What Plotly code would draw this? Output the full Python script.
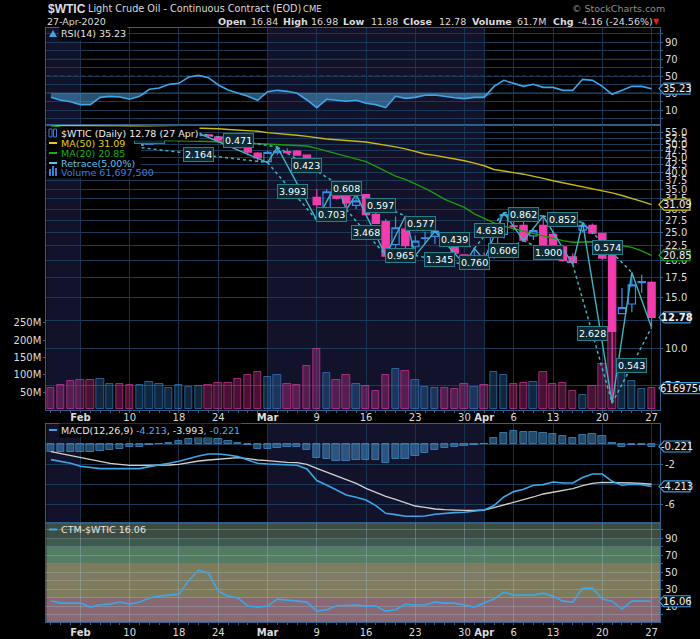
import plotly.graph_objects as go
import numpy as np

# ---------- colours ----------
BLACK = "#000000"
SHADE = "#12122a"
GRID = "#1b3a58"
VGRID = "#17324c"
BORDER = "#2c5f8c"
TXT = "#dcdcdc"
PINK = "#f03cac"
BLUE = "#3a8cf0"
LINEBLUE = "#3ea6e8"
TEAL = "#3cb4c4"
FONT = "DejaVu Sans"

# ---------- data ----------
dates = ["Jan 29", "Jan 30", "Jan 31",
         "Feb 3", "Feb 4", "Feb 5", "Feb 6", "Feb 7", "Feb 10", "Feb 11", "Feb 12", "Feb 13", "Feb 14",
         "Feb 18", "Feb 19", "Feb 20", "Feb 21", "Feb 24", "Feb 25", "Feb 26", "Feb 27", "Feb 28",
         "Mar 2", "Mar 3", "Mar 4", "Mar 5", "Mar 6", "Mar 9", "Mar 10", "Mar 11", "Mar 12", "Mar 13",
         "Mar 16", "Mar 17", "Mar 18", "Mar 19", "Mar 20", "Mar 23", "Mar 24", "Mar 25", "Mar 26", "Mar 27",
         "Mar 30", "Mar 31", "Apr 1", "Apr 2", "Apr 3", "Apr 6", "Apr 7", "Apr 8", "Apr 9",
         "Apr 13", "Apr 14", "Apr 15", "Apr 16", "Apr 17", "Apr 20", "Apr 21", "Apr 22", "Apr 23", "Apr 24", "Apr 27"]
tick_dates = ["Feb 3", "Feb 10", "Feb 18", "Feb 24", "Mar 2", "Mar 9", "Mar 16", "Mar 23", "Mar 30", "Apr 1", "Apr 6", "Apr 13", "Apr 20", "Apr 27"]
tick_labels = ["<b>Feb</b>", "10", "18", "24", "<b>Mar</b>", "9", "16", "23", "30", "<b>Apr</b>", "6", "13", "20", "27"]

opens = [53.6, 53.3, 52.3, 51.6, 50.3, 49.8, 50.8, 50.6, 50.3, 49.6, 50.0, 51.0, 51.4, 51.9, 52.2, 53.5, 53.9, 53.0, 51.3, 50.0, 48.9, 46.6,
         43.6, 46.8, 47.2, 47.4, 45.9, 32.9, 30.2, 34.0, 33.2, 30.9, 33.6, 28.8, 27.2, 22.7, 25.6, 22.3, 23.8, 24.2, 24.5, 22.7, 20.9, 20.4,
         20.6, 20.6, 24.6, 26.3, 26.4, 24.3, 26.4, 24.6, 22.3, 20.6, 25.4, 26.4, 24.8, 21.6, 13.16, 14.2, 16.8, 16.84]
highs = [54.0, 53.4, 52.7, 51.7, 50.9, 51.5, 51.3, 50.8, 50.4, 50.2, 51.3, 51.7, 52.2, 52.4, 53.8, 54.5, 54.1, 53.2, 51.6, 50.3, 49.1, 47.1,
         47.5, 48.9, 48.5, 47.8, 46.0, 35.1, 35.1, 36.8, 33.4, 33.7, 33.6, 30.0, 27.8, 28.3, 28.4, 24.3, 25.1, 25.2, 25.0, 22.9, 21.0, 22.0,
         21.3, 25.4, 29.2, 27.2, 27.5, 25.9, 28.4, 25.2, 22.5, 21.2, 27.0, 26.8, 24.9, 21.8, 16.1, 18.2, 17.9, 16.98]
lows = [52.9, 51.9, 51.3, 49.6, 49.4, 49.7, 50.2, 49.3, 49.2, 49.1, 49.9, 50.7, 51.1, 50.9, 52.0, 53.1, 52.9, 51.0, 49.8, 48.5, 45.8, 43.6,
        43.3, 46.0, 46.2, 45.7, 41.0, 27.5, 30.0, 32.4, 29.9, 30.0, 28.5, 26.7, 20.6, 21.6, 22.0, 20.8, 22.8, 22.8, 22.5, 21.1, 19.4, 19.9,
        20.1, 20.3, 23.8, 25.5, 23.4, 23.5, 22.5, 22.0, 19.8, 19.4, 25.0, 24.6, 20.1, 6.5, 13.1, 13.3, 15.5, 11.88]
closes = [53.3, 52.1, 51.6, 50.1, 49.6, 50.8, 51.0, 50.0, 49.6, 49.9, 51.0, 51.4, 52.0, 52.1, 53.3, 53.9, 53.4, 51.7, 50.0, 48.7, 47.0, 44.9,
          46.9, 47.2, 46.8, 45.9, 41.3, 31.1, 34.4, 32.7, 31.5, 32.0, 28.7, 26.8, 20.7, 25.9, 22.5, 23.3, 23.9, 25.2, 22.7, 21.2, 19.9, 20.6,
          20.3, 25.2, 28.7, 26.1, 23.5, 25.3, 22.6, 22.2, 20.0, 19.7, 26.4, 24.8, 20.4, 11.44, 13.8, 16.5, 16.94, 12.78]

ma50 = [58.0, 58.0, 58.0, 57.9, 57.9, 57.8, 57.8, 57.7, 57.6, 57.5, 57.4, 57.3, 57.2, 57.1, 57.0, 56.9, 56.8, 56.5, 56.2, 56.0, 55.8, 55.4,
        54.8, 54.5, 54.1, 53.7, 53.2, 52.5, 52.1, 51.8, 51.6, 51.2, 50.9, 50.3, 49.6, 49.0, 48.2, 47.1, 46.3, 45.8, 45.2, 44.6, 43.9, 43.1,
        42.2, 41.0, 40.4, 40.0, 39.5, 38.9, 38.2, 37.5, 36.9, 36.4, 35.9, 35.3, 34.8, 34.1, 33.4, 32.7, 31.9, 31.09]
ma20 = [57.9, 57.4, 56.7, 56.0, 55.3, 54.6, 54.0, 53.5, 53.0, 52.6, 52.2, 51.9, 51.6, 51.4, 51.3, 51.2, 51.2, 51.1, 50.9, 50.6, 50.4, 50.1,
        49.9, 49.7, 49.6, 49.5, 49.3, 48.4, 47.4, 46.4, 45.5, 44.5, 43.6, 42.0, 40.4, 38.9, 37.9, 36.6, 35.3, 33.9, 32.4, 31.4, 30.4, 28.9,
        27.8, 26.9, 26.2, 25.7, 25.2, 24.7, 24.2, 23.8, 23.4, 23.1, 23.1, 23.2, 23.0, 22.8, 22.5, 22.2, 21.6, 20.85]

volume_m = [62, 70, 82, 85, 85, 87, 73, 73, 70, 70, 79, 73, 62, 70, 65, 68, 70, 76, 76, 87, 99, 107, 93, 99, 73, 70, 125, 173, 105, 85, 99,
            73, 68, 53, 99, 116, 110, 85, 65, 62, 62, 59, 73, 65, 70, 107, 99, 73, 76, 79, 107, 73, 76, 53, 42, 68, 130, 222, 116, 82, 59, 61.7]
volume_last = 6169750

# zigzag retrace pivots and the ratio printed on each dashed leg
pivot_dates = ["Feb 5", "Feb 10", "Feb 20", "Mar 2", "Mar 3", "Mar 9", "Mar 11", "Mar 12", "Mar 13", "Mar 18", "Mar 20", "Mar 23", "Mar 25",
               "Mar 30", "Mar 31", "Apr 1", "Apr 3", "Apr 7", "Apr 9", "Apr 15", "Apr 16", "Apr 21", "Apr 23", "Apr 27"]
pivot_prices = [52.1, 49.2, 54.5, 43.3, 48.9, 27.5, 36.8, 29.9, 33.7, 20.8, 28.4, 20.8, 25.2, 19.4, 22.0, 20.1, 29.2, 23.4, 28.4, 19.4, 27.0, 6.5, 18.2, 11.8]
retrace_labels = ["1.035", "2.164", "0.471", "3.993", "0.423", "0.703", "0.608", "3.468", "0.597", "0.965", "0.577", "1.345", "0.439", "0.760",
                  "4.638", "0.606", "0.862", "1.900", "0.852", "2.628", "0.574", "0.543"]

rsi = [25.0, 21.5, 19.9, 16.4, 16.4, 25.0, 26.2, 25.4, 22.7, 26.2, 34.5, 36.1, 40.4, 41.6, 49.1, 51.0, 48.3, 39.6, 33.7, 30.1, 26.2, 21.5,
       31.7, 33.3, 32.1, 29.8, 21.9, 12.8, 22.7, 21.5, 20.3, 21.5, 18.0, 16.4, 12.8, 26.2, 23.8, 25.0, 27.4, 27.8, 25.8, 24.6, 23.5, 25.0,
       25.0, 38.0, 45.1, 41.6, 38.0, 40.4, 36.8, 36.8, 33.3, 33.3, 46.3, 45.1, 38.0, 28.6, 33.3, 38.0, 38.0, 35.23]

macd = [-1.53, -1.73, -1.90, -2.20, -2.33, -2.43, -2.43, -2.43, -2.43, -2.43, -2.23, -2.10, -1.90, -1.70, -1.40, -1.17, -0.97, -0.97, -1.07, -1.23, -1.57, -1.90,
        -1.97, -2.00, -2.03, -2.10, -2.47, -3.63, -4.07, -4.57, -5.07, -5.30, -5.57, -6.13, -6.90, -7.03, -7.20, -7.20, -7.17, -7.00, -6.90, -6.83, -6.80, -6.70,
        -6.57, -6.13, -5.27, -4.73, -4.50, -4.10, -4.03, -3.77, -3.87, -3.87, -3.33, -2.97, -2.97, -3.70, -4.10, -4.00, -4.03, -4.213]
macd_signal = [-0.73, -0.93, -1.13, -1.33, -1.53, -1.73, -1.90, -2.00, -2.10, -2.10, -2.10, -2.10, -2.07, -2.00, -1.83, -1.67, -1.57, -1.47, -1.37, -1.33, -1.43, -1.57,
               -1.63, -1.73, -1.80, -1.83, -2.00, -2.40, -2.77, -3.17, -3.50, -3.90, -4.40, -4.80, -5.20, -5.50, -5.83, -6.17, -6.30, -6.47, -6.53, -6.60, -6.60, -6.60,
               -6.57, -6.33, -6.07, -5.80, -5.57, -5.27, -4.97, -4.80, -4.60, -4.43, -4.13, -3.90, -3.80, -3.80, -3.87, -3.87, -3.90, -3.993]
macd_hist = [-0.77, -0.77, -0.77, -0.77, -0.77, -0.63, -0.57, -0.43, -0.30, -0.23, -0.07, 0.03, 0.13, 0.30, 0.50, 0.63, 0.63, 0.53, 0.33, 0.10, -0.10, -0.47,
             -0.47, -0.33, -0.30, -0.30, -0.57, -1.33, -1.50, -1.63, -1.63, -1.57, -1.57, -1.57, -1.83, -1.50, -1.47, -1.13, -0.83, -0.53, -0.33, -0.23, -0.20, -0.07,
             0.07, 0.60, 1.10, 1.30, 1.23, 1.23, 1.10, 1.00, 0.83, 0.60, 0.93, 1.00, 0.83, 0.10, -0.23, -0.10, -0.07, -0.221]

ctm = [16.6, 13.9, 13.9, 13.9, 9.2, 12.0, 12.7, 15.1, 12.7, 15.1, 19.8, 22.1, 23.3, 24.4, 40.4, 52.5, 49.0, 27.9, 22.1, 19.8, 10.4, 9.2,
       10.4, 18.6, 17.4, 16.2, 15.1, 4.5, 6.1, 10.8, 10.8, 11.6, 10.4, 10.4, 4.5, 6.1, 12.7, 11.6, 11.6, 15.1, 13.9, 13.9, 11.6, 9.2,
       13.9, 18.6, 26.8, 23.3, 23.3, 23.3, 25.6, 22.1, 16.2, 15.1, 31.5, 31.5, 18.6, 16.2, 6.9, 16.2, 16.2, 16.06]

price_ticks = [7.5, 10, 12.5, 15, 17.5, 20, 22.5, 25, 27.5, 30, 32.5, 35, 37.5, 40, 42.5, 45, 47.5, 50, 52.5, 55]
vol_ticks = [50, 100, 150, 200, 250]
osc_ticks = [0, 10, 20, 30, 40, 50, 60, 70, 80, 90, 100]
macd_ticks = [-6, -4, -2, 0]
# CTM background bands: from, to, colour
ctm_bands = [(-9, 20, "rgba(146,112,122,0.93)"), (20, 60, "rgba(136,132,100,0.93)"), (60, 80, "rgba(90,132,105,0.93)"),
             (80, 90, "rgba(66,98,82,0.93)"), (90, 110, "rgba(66,82,70,0.93)")]

# ---------- page geometry (pixels of the 700x639 picture) ----------
W, H = 700, 639
PLOT_L, PLOT_R = 46.3, 660
def fx(px): return px / W
def fy(py): return 1 - py / H

idx = list(range(len(dates)))
assert all(len(a) == len(dates) for a in [opens, highs, lows, closes, ma50, ma20, volume_m, rsi, macd, macd_signal, macd_hist, ctm])
xrange_ = [-0.47, 61.86]
tick_idx = [dates.index(d) for d in tick_dates]
pivot_idx = [dates.index(d) for d in pivot_dates]

fig = go.Figure()

# RSI
fig.add_trace(go.Scatter(x=idx, y=[30] * len(idx), mode="lines", line=dict(width=0), xaxis="x", yaxis="y", hoverinfo="skip"))
fig.add_trace(go.Scatter(x=idx, y=[min(v, 30) for v in rsi], mode="lines", line=dict(width=0), fill="tonexty",
                         fillcolor="rgba(80,165,220,0.5)", xaxis="x", yaxis="y", hoverinfo="skip"))
fig.add_trace(go.Scatter(x=idx, y=rsi, mode="lines", line=dict(color=LINEBLUE, width=1.6), xaxis="x", yaxis="y"))

# volume sits on the base axis of the price panel so the candles draw on top
vol_fill = ["rgba(240,60,172,0.3)" if c < o else "rgba(58,140,220,0.28)" for o, c in zip(opens, closes)]
vol_line = ["rgba(240,60,172,0.6)" if c < o else "rgba(58,140,220,0.6)" for o, c in zip(opens, closes)]
fig.add_trace(go.Bar(x=idx, y=volume_m, width=0.75, marker=dict(color=vol_fill, line=dict(color=vol_line, width=1)), xaxis="x2", yaxis="y2"))

# moving averages
fig.add_trace(go.Scatter(x=idx, y=ma50, mode="lines", line=dict(color="#c8b818", width=1.4), xaxis="x2", yaxis="y5"))
fig.add_trace(go.Scatter(x=idx, y=ma20, mode="lines", line=dict(color="#1c9a10", width=1.4), xaxis="x2", yaxis="y5"))

# candles
fig.add_trace(go.Candlestick(x=idx, open=opens, high=highs, low=lows, close=closes, whiskerwidth=0, xaxis="x2", yaxis="y5",
                             increasing=dict(line=dict(color=BLUE, width=1.2), fillcolor="rgba(0,0,0,0)"),
                             decreasing=dict(line=dict(color=PINK, width=1.2), fillcolor=PINK)))

# retrace zigzag: solid through the pivots, dashed between every other pivot
fig.add_trace(go.Scatter(x=pivot_idx, y=pivot_prices, mode="lines", line=dict(color=TEAL, width=1.4), xaxis="x2", yaxis="y5"))
for i in range(len(pivot_idx) - 2):
    fig.add_trace(go.Scatter(x=[pivot_idx[i], pivot_idx[i + 2]], y=[pivot_prices[i], pivot_prices[i + 2]], mode="lines",
                             line=dict(color=TEAL, width=1.5, dash="3px,3px"), xaxis="x2", yaxis="y5"))

# MACD
fig.add_trace(go.Bar(x=idx, y=macd_hist, width=0.75, marker=dict(color="rgba(70,150,210,0.5)", line=dict(color="rgba(70,150,210,0.7)", width=1)), xaxis="x3", yaxis="y3"))
fig.add_trace(go.Scatter(x=idx, y=macd_signal, mode="lines", line=dict(color="#d0d0d0", width=1.3), xaxis="x3", yaxis="y3"))
fig.add_trace(go.Scatter(x=idx, y=macd, mode="lines", line=dict(color=LINEBLUE, width=1.6), xaxis="x3", yaxis="y3"))

# CTM
fig.add_trace(go.Scatter(x=idx, y=ctm, mode="lines", line=dict(color=LINEBLUE, width=1.6), xaxis="x4", yaxis="y4"))

# ---------- axes ----------
def x_axis(anchor, labels, standoff=0):
    ax = dict(domain=[fx(PLOT_L), fx(PLOT_R)], range=xrange_, anchor=anchor, tickmode="array", tickvals=tick_idx,
              showgrid=True, gridcolor=VGRID, gridwidth=1, zeroline=False, showline=True, linecolor=BORDER, mirror=True)
    if labels:
        ax.update(ticktext=tick_labels, ticks="outside", ticklen=2, tickcolor=BORDER, tickfont=dict(size=10, color=TXT, family=FONT),
                  ticklabelstandoff=standoff, minor=dict(tickmode="array", tickvals=idx, ticks="outside", ticklen=2, tickcolor=BORDER))
    else:
        ax.update(showticklabels=False, ticks="")
    return ax

def y_axis(top, bottom, rng, vals, text, side="right", anchor="x", grid=GRID):
    return dict(domain=[fy(bottom), fy(top)], range=rng, anchor=anchor, side=side, tickmode="array", tickvals=vals, ticktext=text,
                showgrid=True, gridcolor=grid, gridwidth=1, zeroline=False, showline=True, linecolor=BORDER, mirror=True,
                ticks="outside", ticklen=2, tickcolor=BORDER, tickfont=dict(size=10, color=TXT, family=FONT))

fig.update_layout(
    width=W, height=H, paper_bgcolor=BLACK, plot_bgcolor=BLACK, showlegend=False, bargap=0, boxgap=0, boxgroupgap=0.26,
    margin=dict(l=0, r=0, t=0, b=0, pad=0, autoexpand=False),
    xaxis=x_axis("y", False), xaxis2=x_axis("y2", True, -4), xaxis3=x_axis("y3", False),
    xaxis4=dict(x_axis("y4", True, -1), gridcolor="rgba(170,195,205,0.33)"),
    yaxis=y_axis(27.5, 125, [-7.7, 107.6], osc_ticks, [str(v) if v in (10, 30, 50, 70, 90) else "" for v in osc_ticks]),
    yaxis2=y_axis(125, 410, [-1.5, 820], vol_ticks, [f"{v}M" for v in vol_ticks], side="left", anchor="x2"),
    yaxis3=y_axis(424, 523, [-7.87, 2.03], macd_ticks, ["-6", "", "-2", ""], anchor="x3"),
    yaxis4=y_axis(523, 622, [-8.3, 108], osc_ticks, [str(v) if v in (10, 30, 50, 70, 90) else "" for v in osc_ticks],
                  anchor="x4", grid="rgba(170,195,205,0.33)"),
    yaxis5=dict(type="log", overlaying="y2", anchor="x2", side="right", range=[np.log10(6.16), np.log10(58.2)], tickmode="array",
                tickvals=price_ticks, ticktext=["" if v == 12.5 else f"{v:.1f}" for v in price_ticks], showgrid=True, gridcolor=GRID, gridwidth=1,
                zeroline=False, ticks="outside", ticklen=2, tickcolor=BORDER, tickfont=dict(size=10, color=TXT, family=FONT)),
)
fig.update_layout(yaxis2_showgrid=False)
fig.update_xaxes(rangeslider_visible=False)

# ---------- shapes ----------
shapes = []
# darker bands for Jan and March, in each panel
shade_spans = [(xrange_[0], dates.index("Feb 3")), (dates.index("Mar 2"), dates.index("Apr 1"))]
for x0, x1 in shade_spans:
    for xref, top, bottom in [("x", 27.5, 125), ("x2", 125, 410), ("x3", 424, 523), ("x4", 523, 622)]:
        shapes.append(dict(type="rect", xref=xref, yref="paper", x0=x0, x1=x1, y0=fy(bottom), y1=fy(top), layer="below", line_width=0, fillcolor=SHADE))
for lo, hi, col in ctm_bands:
    shapes.append(dict(type="rect", xref="paper", yref="y4", x0=fx(PLOT_L), x1=fx(PLOT_R), y0=max(lo, -8.3), y1=min(hi, 108), layer="below", line_width=0, fillcolor=col))
# RSI reference lines
shapes.append(dict(type="line", xref="x", yref="y", x0=xrange_[0], x1=xrange_[1], y0=50, y1=50, layer="below", line=dict(color="#5a7a96", width=1, dash="4px,3px")))
shapes.append(dict(type="line", xref="x", yref="y", x0=xrange_[0], x1=xrange_[1], y0=30, y1=30, layer="below", line=dict(color="#2f6a9a", width=1)))
shapes.append(dict(type="line", xref="x", yref="y", x0=xrange_[0], x1=xrange_[1], y0=70, y1=70, layer="below", line=dict(color="#2a5578", width=1)))

anns = []
def txt(px, py, s, size=10, color=TXT, anchor="left", family=FONT, **kw):
    anns.append(dict(xref="paper", yref="paper", x=fx(px), y=fy(py), text=s, showarrow=False, xanchor=anchor, yanchor="middle",
                     font=dict(size=size, color=color, family=family), **kw))

# header
txt(46, 9, "<b>$WTIC</b>", 12, family="Liberation Sans")
txt(86, 9, "Light Crude Oil - Continuous Contract (EOD)", 9.7)
txt(301, 9, "CME", 8.5)
txt(45, 21, "27-Apr-2020", 9.5)
for px, s in [(216, "<b>Open</b>"), (249, "16.84"), (281, "<b>High</b>"), (309, "16.98"), (341, "<b>Low</b>"), (369, "11.88"), (401, "<b>Close</b>"),
              (437, "12.78"), (470, "<b>Volume</b>"), (515, "61.7M"), (551, "<b>Chg</b>"), (576, "-4.16 (-24.56%)")]:
    txt(px, 21, s, 9.5)
txt(651, 21, "▼", 8, "#e8201c")
txt(570, 9, "© StockCharts.com", 9.5, "#8c8c8c")

# retrace ratio boxes, drawn at the middle of each dashed leg; the first one slides under the legend title
for i, s in enumerate(retrace_labels):
    anns.append(dict(xref="x2", yref="y5", x=(pivot_idx[i] + pivot_idx[i + 2]) / 2, y=(np.log10(pivot_prices[i]) + np.log10(pivot_prices[i + 2])) / 2,
                     text=s, showarrow=False, font=dict(size=9.5, color="#ffffff", family=FONT), bgcolor="#0c2a34", bordercolor="#25808c", borderwidth=1, borderpad=1))

# panel legends
txt(59, 34, "RSI(14) 35.23", 9.5, "#e6e6e6", bgcolor=BLACK)
shapes.append(dict(type="rect", xref="paper", yref="paper", x0=fx(47), x1=fx(141), y0=fy(178), y1=fy(127), layer="above", line_width=0, fillcolor=BLACK))
txt(59, 133, "$WTIC (Daily) 12.78 (27 Apr)", 9.5, "#f0f0f0", bgcolor=BLACK)
for py, s, col in [(143, "MA(50) 31.09", "#e0d010"), (153, "MA(20) 20.85", "#10b010"), (163, "Retrace(5.00%)", "#60c0f0"), (172.5, "Volume 61,697,500", "#3a80e0")]:
    txt(59, py, s, 9.5, col)
    if py < 170:
        shapes.append(dict(type="line", xref="paper", yref="paper", x0=fx(49), x1=fx(57), y0=fy(py), y1=fy(py), layer="above", line=dict(color=col, width=2)))
for px, top in [(50, 169), (53, 166), (56, 168)]:
    shapes.append(dict(type="rect", xref="paper", yref="paper", x0=fx(px - 1), x1=fx(px + 1), y0=fy(176), y1=fy(top), layer="above", line_width=0, fillcolor="#3a80e0"))
# small candle icon in front of the price legend
for px in (50.5, 55):
    shapes.append(dict(type="rect", xref="paper", yref="paper", x0=fx(px - 1.5), x1=fx(px + 1.5), y0=fy(137), y1=fy(129), layer="above", line=dict(color="#3a80e0", width=1), fillcolor="rgba(0,0,0,0)"))
txt(59, 430, "MACD(12,26,9) <span style='color:#4ab0f0'>-4.213</span>, -3.993<span style='color:#4ab0f0'>, -0.221</span>", 9.5, "#e6e6e6", bgcolor=BLACK)
shapes.append(dict(type="line", xref="paper", yref="paper", x0=fx(49), x1=fx(57), y0=fy(430), y1=fy(430), layer="above", line=dict(color=LINEBLUE, width=2)))
txt(59, 529.5, "CTM-$WTIC 16.06", 9.5, "#e6e6e6")
shapes.append(dict(type="line", xref="paper", yref="paper", x0=fx(49), x1=fx(57), y0=fy(529.5), y1=fy(529.5), layer="above", line=dict(color=LINEBLUE, width=2)))
shapes.append(dict(type="path", xref="paper", yref="paper", path=f"M {fx(49)},{fy(37)} L {fx(53)},{fy(30)} L {fx(57)},{fy(37)} Z", layer="above", line_width=0, fillcolor=LINEBLUE))

# value tags on the right edge, pinned to the last value of each series
def tag(yref, value, text, border, bold=False, right=690, yval=None):
    tip, neck = 659, 664
    path = (f"M {fx(tip)},0 L {fx(neck)},-5.5 L {fx(right)},-5.5 L {fx(right)},5.5 L {fx(neck)},5.5 Z")
    shapes.append(dict(type="path", xref="paper", yref=yref, ysizemode="pixel", yanchor=value, path=path,
                       layer="above", fillcolor="#0a0a0a", line=dict(color=border, width=1.2)))
    anns.append(dict(xref="paper", yref=yref, x=fx((neck + min(right, 700)) / 2), y=value if yval is None else yval, text=f"<b>{text}</b>" if bold else text,
                     showarrow=False, font=dict(size=10, color="#f0f0f0", family=FONT), xanchor="center", yanchor="middle"))

tag("y", rsi[-1], f"{rsi[-1]:.2f}", "#3e9ae0")
tag("y5", ma50[-1], f"{ma50[-1]:.2f}", "#d8c818", yval=np.log10(ma50[-1]))
tag("y5", ma20[-1], f"{ma20[-1]:.2f}", "#18b018", yval=np.log10(ma20[-1]))
tag("y5", closes[-1], f"{closes[-1]:.2f}", "#3e9ae0", bold=True, yval=np.log10(closes[-1]))
tag("y2", volume_m[-1], str(volume_last), "#3e9ae0", right=712)
tag("y3", macd_hist[-1], f"{macd_hist[-1]:.3f}", "#3e9ae0")
tag("y3", macd[-1], f"{macd[-1]:.3f}", "#3e9ae0")
tag("y4", ctm[-1], f"{ctm[-1]:.2f}", "#3e9ae0")

fig.update_layout(shapes=shapes, annotations=anns)
fig.write_html("out.html", config=dict(displayModeBar=False), post_script="document.body.style.margin='0';document.body.style.background='#000';")
